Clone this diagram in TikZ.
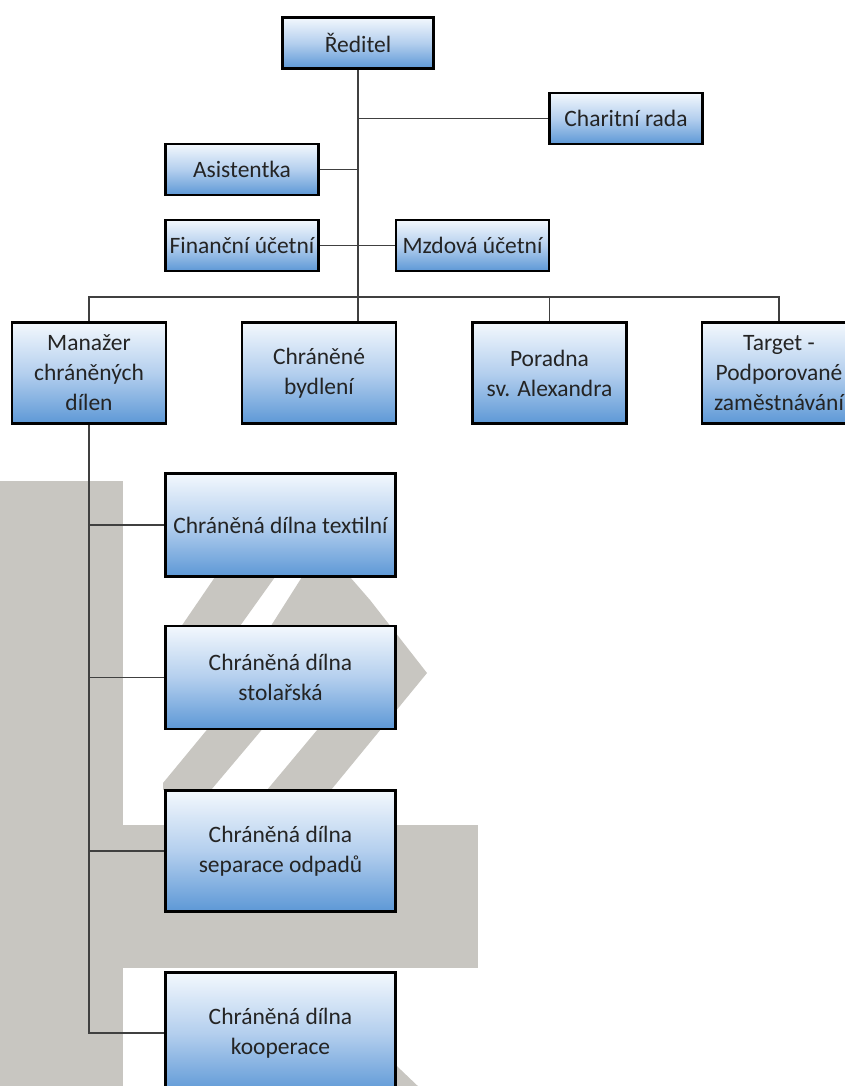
\documentclass[tikz,border=0pt]{standalone}
\usepackage{fontspec}
\setmainfont{Carlito}
\usetikzlibrary{calc,shadows}
\definecolor{wm}{RGB}{200,198,193}
\definecolor{btop}{RGB}{243,248,253}
\definecolor{bmid}{RGB}{180,207,238}
\definecolor{bbot}{RGB}{93,152,214}
\definecolor{lnc}{RGB}{64,64,64}
\definecolor{txt}{RGB}{36,36,36}
\pgfdeclarelayer{wml}
\pgfdeclarelayer{lines}
\pgfsetlayers{wml,lines,main}
\begin{document}
\begin{tikzpicture}[x=1pt,y=-1pt,
  box/.style={draw=black, line width=2.4pt, top color=btop, bottom color=bbot, middle color=bmid,
    align=center, text=txt, font=\fontsize{23.5}{30}\selectfont, inner sep=0pt,
    drop shadow={shadow xshift=1.2pt, shadow yshift=-1.2pt, fill=black, opacity=0.25}},
  small/.style={box, minimum width=153pt, minimum height=51pt},
  midbox/.style={box, minimum width=154pt, minimum height=101pt},
  wide/.style={box, minimum width=230pt},
  conn/.style={draw=lnc, line width=1.6pt},
  wmark/.style={fill=wm}]
\useasboundingbox (0,0) rectangle (845,1086);
\begin{pgfonlayer}{wml}
\clip (0,0) rectangle (845,1086);
\fill[white] (0,0) rectangle (845,1086);
\fill[wmark] (0,481) rectangle (123,1086);
\fill[wmark] (120,825) rectangle (478,968);
\fill[wmark] (215,577) -- (275,577) -- (230,640) -- (172,640) -- cycle;
\fill[wmark] (302,577) -- (350,577) -- (370,600) -- (427,673) -- (331,790) -- (267,790)
  -- (338,705) -- (262,640) -- cycle;
\fill[wmark] (163,790) -- (211,790) -- (270,720) -- (215,720) -- (163,783) -- cycle;
\fill[wmark] (380,1050) -- (422,1090) -- (380,1090) -- cycle;
\end{pgfonlayer}
% nodes
\node[small, minimum width=151pt] (red) at (358,43) {Ředitel};
\node[small] (char) at (626,118.5) {Charitní rada};
\node[small] (asis) at (242,169.5) {Asistentka};
\node[small] (fin) at (242,245.5) {Finanční účetní};
\node[small] (mzd) at (472.5,245.5) {Mzdová účetní};
\node[midbox] (man) at (89,373) {Manažer\\chráněných\\dílen};
\node[midbox] (chb) at (319,373) {Chráněné\\bydlení};
\node[midbox] (por) at (549.5,373) {Poradna\\sv. Alexandra};
\node[midbox] (tgt) at (779,373) {Target -\\Podporované\\zaměstnávání};
\node[wide, minimum height=103pt] (tex) at (280.5,525) {Chráněná dílna textilní};
\node[wide, minimum height=103pt] (sto) at (280.5,677.5) {Chráněná dílna\\stolařská};
\node[wide, minimum height=121pt] (sep) at (280.5,851) {Chráněná dílna\\separace odpadů};
\node[wide, minimum height=121pt] (koo) at (280.5,1033) {Chráněná dílna\\kooperace};
\coordinate (bus) at (358,297);
\begin{pgfonlayer}{lines}
\draw[conn] (red.south) -- (red.south |- chb.north);
\draw[conn] (red.south |- char.west) -- (char.west);
\draw[conn] (asis.east) -- (asis.east -| red.south);
\draw[conn] (fin.east) -- (mzd.west);
\draw[conn] (man.north) |- (bus) -| (tgt.north);
\draw[conn] (por.north) -- (por.north |- bus);
\draw[conn] (man.south) |- (koo.west);
\draw[conn] (man.south |- tex.west) -- (tex.west);
\draw[conn] (man.south |- sto.west) -- (sto.west);
\draw[conn] (man.south |- sep.west) -- (sep.west);
\end{pgfonlayer}
\end{tikzpicture}
\end{document}
